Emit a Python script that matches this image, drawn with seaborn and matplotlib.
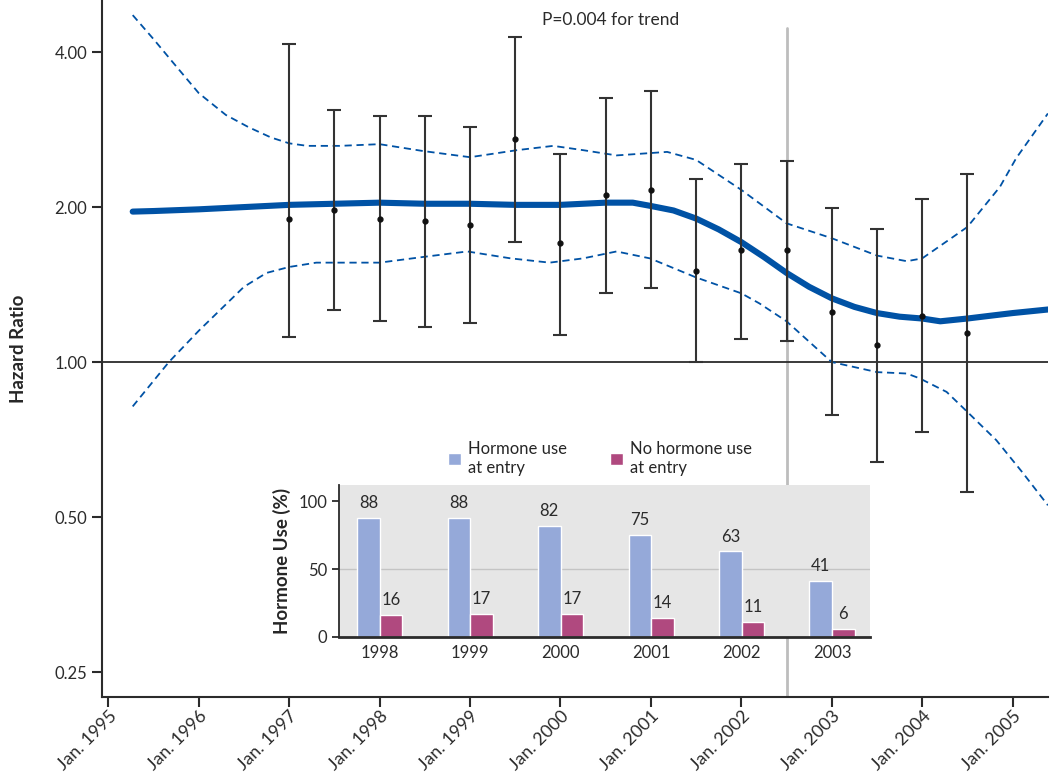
import matplotlib
matplotlib.use("Agg")
import matplotlib.pyplot as plt
import numpy as np
import pandas as pd
import seaborn as sns
from matplotlib.patches import Patch

# Hazard ratio curve (solid) and 95% confidence band (dashed)
curve_years = [1995.27, 1995.5, 1996.0, 1996.5, 1997.0, 1997.5, 1998.0, 1998.5, 1999.0,
               1999.5, 2000.0, 2000.5, 2000.8, 2001.0, 2001.25, 2001.5, 2001.75, 2002.0,
               2002.25, 2002.5, 2002.75, 2003.0, 2003.25, 2003.5, 2003.75, 2004.0, 2004.2,
               2004.5, 2004.75, 2005.0, 2005.39]
curve_hr = [1.96, 1.965, 1.98, 2.00, 2.02, 2.03, 2.04, 2.03, 2.03,
            2.02, 2.02, 2.04, 2.04, 2.01, 1.97, 1.90, 1.81, 1.71,
            1.60, 1.49, 1.40, 1.33, 1.28, 1.245, 1.225, 1.215, 1.20,
            1.215, 1.23, 1.245, 1.265]

upper_years = [1995.27, 1995.5, 1995.72, 1996.0, 1996.3, 1996.55, 1996.8, 1997.0, 1997.2,
               1997.56, 1998.0, 1998.48, 1999.0, 1999.52, 1999.92, 2000.25, 2000.62, 2001.18,
               2001.5, 2002.0, 2002.5, 2003.0, 2003.5, 2003.83, 2004.0, 2004.5, 2004.86,
               2005.04, 2005.39]
upper_hr = [4.72, 4.24, 3.81, 3.33, 3.02, 2.86, 2.73, 2.66, 2.63,
            2.63, 2.65, 2.57, 2.50, 2.58, 2.63, 2.58, 2.52, 2.56,
            2.47, 2.16, 1.86, 1.74, 1.61, 1.57, 1.59, 1.83, 2.19,
            2.49, 3.04]

lower_years = [1995.27, 1995.67, 1996.0, 1996.5, 1996.75, 1997.0, 1997.3, 1998.0, 1998.48,
               1998.97, 1999.45, 1999.88, 2000.25, 2000.62, 2000.99, 2001.5, 2002.0, 2002.2,
               2002.5, 2003.0, 2003.5, 2003.83, 2003.97, 2004.27, 2004.5, 2004.82, 2005.11, 2005.39]
lower_hr = [0.82, 1.00, 1.15, 1.40, 1.49, 1.53, 1.56, 1.56, 1.60,
            1.64, 1.59, 1.56, 1.59, 1.64, 1.59, 1.46, 1.36, 1.30,
            1.20, 1.00, 0.956, 0.95, 0.93, 0.875, 0.80, 0.705, 0.61, 0.527]

# Half-yearly point estimates with 95% CI
pt_years = [1997.0, 1997.5, 1998.0, 1998.5, 1999.0, 1999.5, 2000.0, 2000.5,
            2001.0, 2001.5, 2002.0, 2002.5, 2003.0, 2003.5, 2004.0, 2004.5]
pt_hr = [1.90, 1.97, 1.90, 1.88, 1.85, 2.71, 1.70, 2.11,
         2.16, 1.50, 1.65, 1.65, 1.25, 1.08, 1.23, 1.14]
pt_lo = [1.12, 1.26, 1.20, 1.17, 1.19, 1.71, 1.13, 1.36,
         1.39, 1.00, 1.11, 1.10, 0.79, 0.64, 0.73, 0.56]
pt_hi = [4.15, 3.09, 3.00, 3.00, 2.86, 4.28, 2.54, 3.26,
         3.36, 2.27, 2.42, 2.46, 1.99, 1.81, 2.07, 2.32]

# Inset: hormone use (%)
inset_years = ["1998", "1999", "2000", "2001", "2002", "2003"]
use_at_entry = [88, 88, 82, 75, 63, 41]
no_use_at_entry = [16, 17, 17, 14, 11, 6]

x_ticks = list(range(1995, 2006))
x_labels = [f"Jan. {y}" for y in x_ticks]
y_ticks = [0.25, 0.5, 1.0, 2.0, 4.0]
y_labels = ["0.25", "0.50", "1.00", "2.00", "4.00"]

BLUE = "#0052a5"
DARK = "#2b2b2b"

sns.set_style("ticks")
plt.rcParams["font.family"] = ["Lato", "DejaVu Sans"]
plt.rcParams["axes.edgecolor"] = DARK
plt.rcParams["xtick.color"] = DARK
plt.rcParams["ytick.color"] = DARK

fig = plt.figure(figsize=(10.5, 7.72), dpi=100)
ax = fig.add_axes([0.0971, 0.0972, 0.9009, 0.9028])

curve_df = pd.DataFrame({"year": curve_years, "hr": curve_hr})
upper_df = pd.DataFrame({"year": upper_years, "hr": upper_hr})
lower_df = pd.DataFrame({"year": lower_years, "hr": lower_hr})

ax.axhline(1.0, color=DARK, lw=1.3, zorder=1)
ax.axvline(2002.51, ymin=0.0, ymax=1 - 28 / 697, color="#bdbdbd", lw=2, zorder=0)

sns.lineplot(data=upper_df, x="year", y="hr", ax=ax, color=BLUE, lw=1.3,
             linestyle=(0, (4, 2.6)), zorder=2)
sns.lineplot(data=lower_df, x="year", y="hr", ax=ax, color=BLUE, lw=1.3,
             linestyle=(0, (4, 2.6)), zorder=2)
sns.lineplot(data=curve_df, x="year", y="hr", ax=ax, color=BLUE, lw=4.4,
             solid_capstyle="round", zorder=3)

yerr = [np.array(pt_hr) - np.array(pt_lo), np.array(pt_hi) - np.array(pt_hr)]
ax.errorbar(pt_years, pt_hr, yerr=yerr, fmt="o", color="#111111", ecolor="#333333",
            elinewidth=1.5, capsize=5, capthick=1.5, markersize=3.5, zorder=4)

ax.set_yscale("log", base=2)
ax.set_ylim(0.2236, 5.05)
ax.set_yticks(y_ticks)
ax.set_yticklabels(y_labels)
ax.yaxis.set_minor_locator(matplotlib.ticker.NullLocator())
ax.set_xlim(1994.93, 2005.39)
ax.set_xticks(x_ticks)
ax.set_xticklabels(x_labels, rotation=45, ha="right", rotation_mode="anchor")
ax.tick_params(axis="both", labelsize=12, length=7, width=1.5, direction="out")
ax.tick_params(axis="x", pad=1, labelsize=12.8)
ax.set_xlabel("")
ax.set_ylabel("Hazard Ratio", fontsize=13.5, fontweight="bold", labelpad=20)
for side in ["top", "right"]:
    ax.spines[side].set_visible(False)
for side in ["left", "bottom"]:
    ax.spines[side].set_linewidth(1.5)

ax.text(2000.55, 4.62, "P=0.004 for trend", ha="center", va="center",
        fontsize=12.5, color=DARK)

# Inset bar chart
ax_in = fig.add_axes([0.3229, 0.1749, 0.5057, 0.1969])
ax_in.set_facecolor("#e6e6e6")
bar_df = pd.DataFrame({
    "year": inset_years * 2,
    "pct": use_at_entry + no_use_at_entry,
    "group": ["Hormone use\nat entry"] * len(inset_years) + ["No hormone use\nat entry"] * len(inset_years),
})
sns.barplot(data=bar_df, x="year", y="pct", hue="group", ax=ax_in,
            palette=["#95a9d9", "#b0497f"], width=0.5, gap=0, saturation=1,
            legend=False, zorder=2)
for cont in ax_in.containers:
    ax_in.bar_label(cont, fontsize=12, padding=5, color=DARK)
ax_in.axhline(50, color="#c4c4c4", lw=1, zorder=1)
ax_in.set_ylim(0, 112)
ax_in.set_xlim(-0.45, 5.42)
ax_in.set_yticks([0, 50, 100])
ax_in.tick_params(axis="y", labelsize=12, length=5, width=1.3)
ax_in.tick_params(axis="x", labelsize=12, length=0, pad=6)
ax_in.set_xlabel("")
ax_in.set_ylabel("Hormone Use (%)", fontsize=13.5, fontweight="bold", labelpad=5)
for side in ["top", "right"]:
    ax_in.spines[side].set_visible(False)
ax_in.spines["left"].set_linewidth(1.3)
ax_in.spines["bottom"].set_linewidth(2)

handles = [Patch(facecolor="#95a9d9"), Patch(facecolor="#b0497f")]
fig.legend(handles, ["Hormone use\nat entry", "No hormone use\nat entry"],
           loc="upper left", bbox_to_anchor=(0.412, 1 - 426 / 772), ncol=2,
           frameon=False, fontsize=12, handlelength=0.8, handleheight=0.8,
           handletextpad=0.4, columnspacing=2.6, labelspacing=0.2)

fig.savefig("out.png", dpi=100)
